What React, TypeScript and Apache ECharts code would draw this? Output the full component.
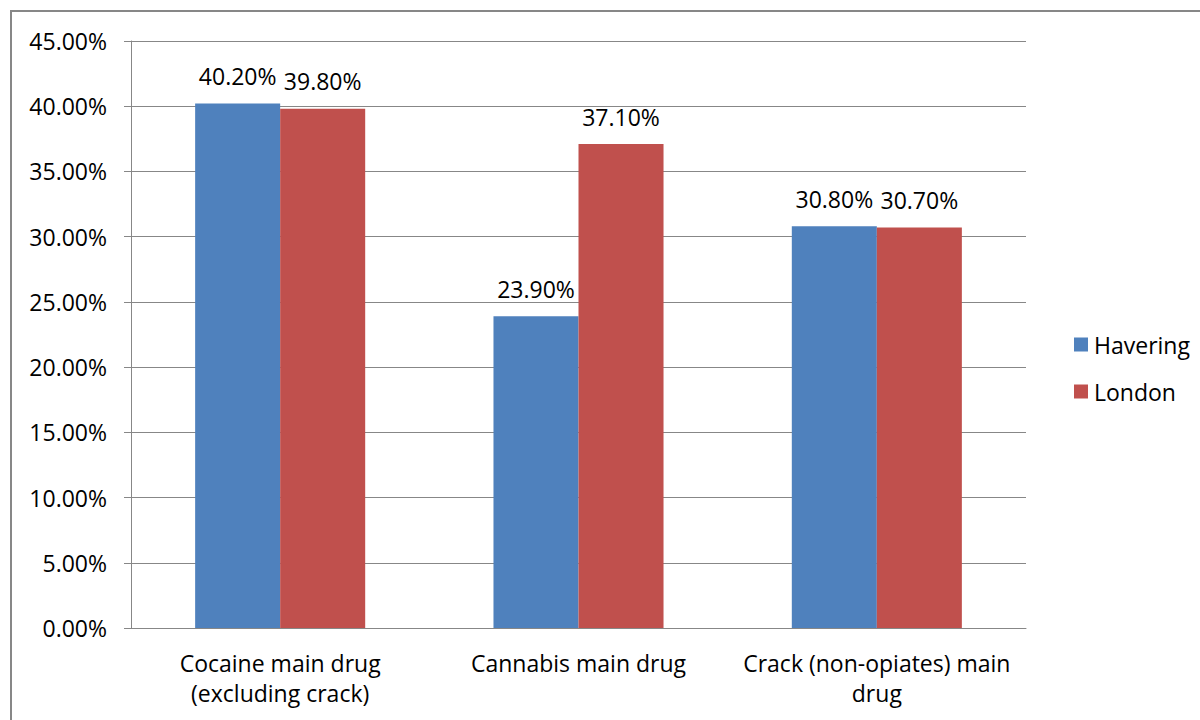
import React, { useEffect, useRef } from "react";
import * as echarts from "echarts";

const categories = ["Cocaine main drug\n(excluding crack)", "Cannabis main drug", "Crack (non-opiates) main\ndrug"];
const havering = [40.2, 23.9, 30.8];
const london = [39.8, 37.1, 30.7];
const seriesNames = ["Havering", "London"];

const FONT = "Open Sans";
const GRAY = "#878787";
const FS = 23;

export default function App() {
  const ref = useRef<HTMLDivElement>(null);
  useEffect(() => {
    const chart = echarts.init(ref.current!, null, { renderer: "svg" });
    const labelCfg = {
      show: true,
      position: "top",
      distance: 16,
      fontFamily: FONT,
      fontSize: FS,
      color: "#000",
      formatter: (p: any) => p.value.toFixed(2) + "%",
    };
    chart.setOption({
      animation: false,
      backgroundColor: "#fff",
      textStyle: { fontFamily: FONT },
      graphic: [
        {
          type: "rect",
          shape: { x: 11, y: 11, width: 1300, height: 800 },
          style: { fill: "none", stroke: GRAY, lineWidth: 2 },
          silent: true,
        },
      ],
      grid: { left: 131, right: 174, top: 41, bottom: 92 },
      legend: {
        orient: "vertical",
        left: 1069,
        top: 328,
        itemWidth: 14,
        itemHeight: 14,
        itemGap: 24,
        icon: "rect",
        textStyle: { fontFamily: FONT, fontSize: FS, color: "#000", padding: [0, 0, 0, 1] },
        data: seriesNames,
      },
      xAxis: {
        type: "category",
        data: categories,
        axisLine: { lineStyle: { color: GRAY, width: 1 } },
        axisTick: { length: 8, lineStyle: { color: GRAY } },
        axisLabel: {
          fontFamily: FONT,
          fontSize: FS,
          color: "#000",
          lineHeight: 30,
          margin: 20,
          interval: 0,
        },
      },
      yAxis: {
        type: "value",
        min: 0,
        max: 45,
        interval: 5,
        axisLine: { show: true, lineStyle: { color: GRAY } },
        axisTick: { show: true, length: 7, lineStyle: { color: GRAY } },
        splitLine: { show: true, lineStyle: { color: GRAY } },
        axisLabel: {
          fontFamily: FONT,
          fontSize: FS,
          color: "#000",
          margin: 24,
          formatter: (v: number) => v.toFixed(2) + "%",
        },
      },
      series: [
        {
          name: seriesNames[0],
          type: "bar",
          data: havering,
          barWidth: "28.5%",
          barGap: "0%",
          itemStyle: { color: "#4F81BD" },
          label: labelCfg,
        },
        {
          name: seriesNames[1],
          type: "bar",
          data: london,
          barWidth: "28.5%",
          barGap: "0%",
          itemStyle: { color: "#C0504D" },
          label: labelCfg,
        },
      ],
    });
    return () => chart.dispose();
  }, []);
  return (
    <div
      ref={ref}
      style={{ position: "absolute", left: 0, top: 0, width: 1200, height: 720 }}
    />
  );
}
